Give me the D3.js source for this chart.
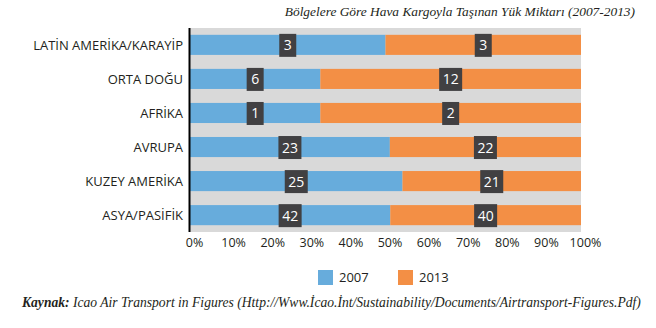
<!DOCTYPE html>
<html>
<head>
<meta charset="utf-8">
<script src="https://cdn.jsdelivr.net/npm/d3@7"></script>
<style>
  body { margin: 0; background: #fff; }
  svg { display: block; }
  .cat { font-family: "Open Sans", sans-serif; font-size: 13px; fill: #231f20; }
  .tick text { font-family: "Open Sans", sans-serif; font-size: 12.5px; fill: #231f20; }
  .val { font-family: "Open Sans", sans-serif; font-size: 14px; fill: #fff; }
  .leg { font-family: "Open Sans", sans-serif; font-size: 13px; fill: #231f20; }
  .ttl { font-family: "Liberation Serif", serif; font-style: italic; font-size: 13.4px; fill: #231f20; }
  .src { font-family: "Liberation Serif", serif; font-style: italic; font-size: 13.6px; fill: #231f20; }
</style>
</head>
<body>
<div id="chart"></div>
<script>
// Veriler
var categories = ["LATİN AMERİKA/KARAYİP", "ORTA DOĞU", "AFRİKA", "AVRUPA", "KUZEY AMERİKA", "ASYA/PASİFİK"];
var values2007 = [3, 6, 1, 23, 25, 42];
var values2013 = [3, 12, 2, 22, 21, 40];
var seriesNames = ["2007", "2013"];
var tickValues = [0, 0.1, 0.2, 0.3, 0.4, 0.5, 0.6, 0.7, 0.8, 0.9, 1];
var colors = ["#67acdc", "#f38f45"];

var width = 656, height = 328;
var plot = { left: 190, right: 581, top: 28, bottom: 232 };

var svg = d3.select("#chart").append("svg")
    .attr("width", width)
    .attr("height", height);

var data = categories.map(function(c, i) {
    var total = values2007[i] + values2013[i];
    return { name: c, v: [values2007[i], values2013[i]], total: total };
});

var xScale = d3.scaleLinear().domain([0, 1]).range([plot.left, plot.right]);
var yScale = d3.scaleBand().domain(categories).range([plot.top, plot.bottom]).paddingInner(0.41).paddingOuter(0.2);

// fundo cinza
svg.append("rect")
    .attr("x", plot.left).attr("y", plot.top)
    .attr("width", plot.right - plot.left).attr("height", plot.bottom - plot.top)
    .attr("fill", "#d9d9d9");

// barras
var rows = svg.selectAll(".row").data(data).enter()
    .append("g").attr("class", "row")
    .attr("transform", function(d) { return "translate(0," + yScale(d.name) + ")"; });

rows.each(function(d) {
    var g = d3.select(this);
    var start = 0;
    d.v.forEach(function(v, k) {
        var frac = v / d.total;
        var x0 = xScale(start), x1 = xScale(start + frac);
        g.append("rect")
            .attr("x", x0).attr("y", 0)
            .attr("width", x1 - x0).attr("height", yScale.bandwidth())
            .attr("fill", colors[k]);
        start += frac;
    });
    start = 0;
    d.v.forEach(function(v, k) {
        var frac = v / d.total;
        var cx = xScale(start + frac / 2);
        var label = String(v);
        var bw = label.length > 1 ? 23 : 17;
        g.append("rect")
            .attr("x", cx - bw / 2).attr("y", yScale.bandwidth() / 2 - 11)
            .attr("width", bw).attr("height", 23)
            .attr("fill", "#414042");
        g.append("text")
            .attr("class", "val")
            .attr("x", cx).attr("y", yScale.bandwidth() / 2 + 5.5)
            .attr("text-anchor", "middle")
            .text(label);
        start += frac;
    });
});

// rotulos das categorias
svg.selectAll(".cat").data(categories).enter()
    .append("text").attr("class", "cat")
    .attr("x", 183)
    .attr("y", function(d) { return yScale(d) + yScale.bandwidth() / 2 + 5; })
    .attr("text-anchor", "end")
    .text(function(d) { return d; });

// eixo y (linha)
svg.append("line")
    .attr("x1", plot.left - 0.5).attr("x2", plot.left - 0.5)
    .attr("y1", plot.top).attr("y2", plot.bottom)
    .attr("stroke", "#000").attr("stroke-width", 2);

// eixo x
var xAxis = d3.axisBottom(xScale).tickValues(tickValues).tickFormat(d3.format(".0%")).tickSize(0).tickPadding(6);
var ax = svg.append("g").attr("transform", "translate(4," + plot.bottom + ")").call(xAxis);
ax.select(".domain").remove();

// legenda
var legX = [318, 398];
seriesNames.forEach(function(s, k) {
    svg.append("rect").attr("x", legX[k]).attr("y", 270).attr("width", 15).attr("height", 15).attr("fill", colors[k]);
    svg.append("text").attr("class", "leg").attr("x", legX[k] + 21).attr("y", 282).text(s);
});

// titulo
svg.append("text").attr("class", "ttl")
    .attr("x", 635).attr("y", 16).attr("text-anchor", "end")
    .text("Bölgelere Göre Hava Kargoyla Taşınan Yük Miktarı (2007-2013)");

// fonte
var src = svg.append("text").attr("class", "src").attr("x", 22).attr("y", 307);
src.append("tspan").attr("font-weight", "bold").text("Kaynak:");
src.append("tspan").text(" Icao Air Transport in Figures (Http://Www.İcao.İnt/Sustainability/Documents/Airtransport-Figures.Pdf)");
</script>
</body>
</html>
